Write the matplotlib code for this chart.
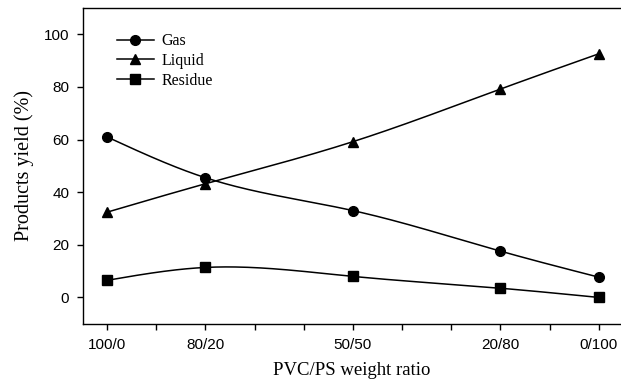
import numpy as np
import matplotlib
matplotlib.use('Agg')
import matplotlib.pyplot as plt
from matplotlib.ticker import MultipleLocator

# PS content (%) for each PVC/PS ratio
ps = [0, 20, 50, 80, 100]
ratio_labels = ['100/0', '80/20', '50/50', '20/80', '0/100']
gas = [61.0, 45.5, 33.0, 17.6, 7.7]
liquid = [32.4, 43.2, 59.2, 79.2, 92.6]
residue = [6.5, 11.4, 8.0, 3.5, 0.0]


def smooth(x, y, n=200):
    # natural cubic spline, like the smoothed lines of the original plot
    x = np.asarray(x, float)
    y = np.asarray(y, float)
    k = len(x)
    h = np.diff(x)
    A = np.zeros((k, k))
    b = np.zeros(k)
    A[0, 0] = 1
    A[-1, -1] = 1
    for i in range(1, k - 1):
        A[i, i - 1] = h[i - 1]
        A[i, i] = 2 * (h[i - 1] + h[i])
        A[i, i + 1] = h[i]
        b[i] = 6 * ((y[i + 1] - y[i]) / h[i] - (y[i] - y[i - 1]) / h[i - 1])
    M = np.linalg.solve(A, b)
    xs = np.linspace(x[0], x[-1], n)
    idx = np.clip(np.searchsorted(x, xs) - 1, 0, k - 2)
    x0, x1 = x[idx], x[idx + 1]
    hh = x1 - x0
    t0 = x1 - xs
    t1 = xs - x0
    ys = (M[idx] * t0 ** 3 / (6 * hh) + M[idx + 1] * t1 ** 3 / (6 * hh)
          + (y[idx] / hh - M[idx] * hh / 6) * t0
          + (y[idx + 1] / hh - M[idx + 1] * hh / 6) * t1)
    return xs, ys


fig = plt.figure(figsize=(6.21, 3.80), dpi=100)
ax = fig.add_axes([0.1337, 0.148, 0.8663, 0.831])

series = [(gas, 'o', 'Gas'), (liquid, '^', 'Liquid'), (residue, 's', 'Residue')]
for vals, mk, name in series:
    xs, ys = smooth(ps, vals)
    ax.plot(xs, ys, color='black', lw=1.1)
    ax.plot(ps, vals, linestyle='none', marker=mk, color='black', ms=7)
    ax.plot([], [], color='black', lw=1.1, marker=mk, ms=7, label=name)

ax.set_xlim(-4.88, 104.5)
ax.set_ylim(-10, 110)
ax.set_xticks(ps)
ax.set_xticklabels(ratio_labels)
ax.xaxis.set_minor_locator(MultipleLocator(10))
ax.set_yticks([0, 20, 40, 60, 80, 100])
ax.spines['right'].set_visible(False)
for s in ax.spines.values():
    s.set_linewidth(1.0)
ax.tick_params(axis='both', which='both', direction='out', length=4, width=1.0,
               labelsize=11)
ax.tick_params(axis='x', which='major', pad=6.5)
ax.tick_params(axis='y', which='major', pad=6)
for lab in ax.get_xticklabels() + ax.get_yticklabels():
    lab.set_family('Liberation Sans')

ax.set_xlabel('PVC/PS weight ratio', family='Liberation Serif', fontsize=13.5,
              labelpad=7)
ax.set_ylabel('Products yield (%)', family='Liberation Serif', fontsize=14.5,
              labelpad=7)

ax.legend(loc='upper left', bbox_to_anchor=(0.036, 0.966), frameon=False,
          prop={'family': 'Liberation Serif', 'size': 11.5}, handlelength=2.3,
          labelspacing=0.25, handletextpad=0.5)

fig.savefig('out.png', dpi=100)
